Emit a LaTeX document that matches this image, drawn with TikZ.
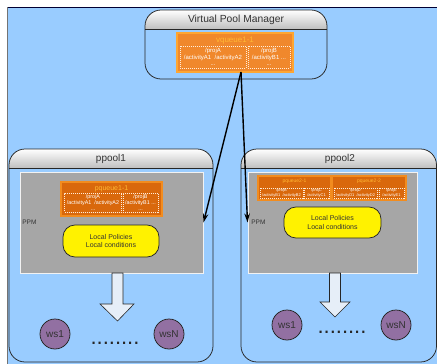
\documentclass[tikz,border=0pt]{standalone}
\usepackage{fontspec}
\setmainfont{Liberation Sans}
\usetikzlibrary{arrows.meta}

\definecolor{poolblue}{HTML}{99CCFF}
\definecolor{vqfill}{HTML}{F0882C}
\definecolor{vqedge}{HTML}{FFA631}
\definecolor{pqfill}{HTML}{D9680C}
\definecolor{pqedge}{HTML}{F28C1E}
\definecolor{qlabel}{HTML}{FFB833}
\definecolor{ppmgray}{HTML}{A6A6A6}
\definecolor{wspurple}{HTML}{9270A2}
\definecolor{bigarrow}{HTML}{E6EEF8}
\definecolor{inktext}{HTML}{333333}

\tikzset{every picture/.style={line width=0.75pt}}
\tikzset{
  pool/.style={draw=black!85, rounded corners=16},
  headband/.style={top color=white, bottom color=black!25},
  queue/.style={fill=vqfill, draw=vqedge, line width=1.3pt, inner sep=0pt},
  pqueue/.style={fill=pqfill, draw=pqedge, line width=1.1pt, inner sep=0pt},
  qname/.style={text=qlabel, inner sep=0pt},
  projbox/.style={draw=white!85!orange, dash pattern=on 1pt off 1pt, line width=0.4pt,
    text=white, align=center, inner sep=0pt},
  ppmbox/.style={fill=ppmgray, draw=white!90!gray, line width=1pt, inner sep=0pt},
  policy/.style={fill=yellow, draw=black!85, rounded corners=12, align=center,
    text=inktext, inner sep=0pt, font=\fontsize{7}{8.5}\selectfont},
  ws/.style={circle, fill=wspurple, draw=black!85, minimum size=30pt, inner sep=0pt,
    text=inktext, font=\fontsize{10}{10}\selectfont},
  blockarrow/.style={fill=bigarrow, draw=black!85, line width=0.6pt},
  link/.style={line width=1.4pt, -{Stealth[length=9pt,width=5.5pt]}},
  dots/.style={text=black!85, inner sep=0pt, anchor=base, font=\fontsize{22}{22}\selectfont}
}

\begin{document}
\begin{tikzpicture}[x=1pt,y=1pt,yscale=-1]
	\useasboundingbox (0,0) rectangle (437,364);

	%Shape: Background
	\fill[poolblue] (7,7) rectangle (437,364);
	\draw[black!80!blue, line width=1pt] (7,7) -- (437,7);
	\draw[black!55, line width=1pt] (7,7) -- (7,364);

	%Shape: Virtual Pool Manager
	\begin{scope}
		\clip[rounded corners=16] (145,10) rectangle (327,79);
		\shade[headband] (145,10) rectangle (327,29);
	\end{scope}
	\draw[pool] (145,10) rectangle (327,79);
	\draw[black!85] (145,29) -- (327,29);
	% Text Node
	\node[text=inktext, font=\fontsize{10.3}{12}\selectfont] (vpmname) at (236,20) {Virtual Pool Manager};

	%Shape: vqueue1-1
	\node[queue, minimum width=116, minimum height=39] (vq) at (235,52.5) {};
	\node[qname, font=\fontsize{8}{8}\selectfont] (vqname) at (235,40.5) {vqueue1-1};
	\node[projbox, minimum width=66, minimum height=22, font=\fontsize{6}{6.6}\selectfont] (vqa) at (213,57) {/projA\\/activityA1\ \ /activityA2\\...};
	\node[projbox, minimum width=42, minimum height=22, font=\fontsize{6}{6.6}\selectfont] (vqb) at (269,57) {/projB\\/activityB1 ...\\...};

	%Shape: ppool1
	\begin{scope}
		\clip[rounded corners=16] (9,149) rectangle (213,362);
		\shade[headband] (9,149) rectangle (213,168);
	\end{scope}
	\draw[pool] (9,149) rectangle (213,362);
	\draw[black!85] (9,168) -- (213,168);
	% Text Node
	\node[text=inktext, font=\fontsize{10}{12}\selectfont] (p1name) at (111,158.5) {ppool1};

	%Shape: ppool2
	\begin{scope}
		\clip[rounded corners=16] (241,149) rectangle (437,362);
		\shade[headband] (241,149) rectangle (437,168);
	\end{scope}
	\draw[pool] (241,149) rectangle (436.5,362);
	\draw[black!85] (241,168) -- (437,168);
	% Text Node
	\node[text=inktext, font=\fontsize{10}{12}\selectfont] (p2name) at (340,158.5) {ppool2};

	%Shape: PPM boxes
	\node[ppmbox, minimum width=183, minimum height=101] (ppm1) at (111.5,222.5) {};
	\node[ppmbox, minimum width=169, minimum height=101] (ppm2) at (332.5,222.5) {};
	% Text Node
	\node[text=inktext, anchor=west, inner sep=0pt, font=\fontsize{6.5}{7}\selectfont] (ppm1name) at (22,222) {PPM};
	\node[text=inktext, anchor=west, inner sep=0pt, font=\fontsize{6.5}{7}\selectfont] (ppm2name) at (251,222) {PPM};

	%Shape: pqueue1-1
	\node[pqueue, minimum width=101, minimum height=34] (pq11) at (111.5,199) {};
	\node[qname, font=\fontsize{7}{7}\selectfont] (pq11name) at (111.5,188.5) {pqueue1-1};
	\node[projbox, minimum width=57, minimum height=19, font=\fontsize{5.4}{6}\selectfont] (pq11a) at (93,202.5) {/projA\\/activityA1\ \ /activityA2\\...};
	\node[projbox, minimum width=35, minimum height=19, font=\fontsize{5.4}{6}\selectfont] (pq11b) at (140.5,202.5) {/projB\\/activityB1 ...\\...};

	%Shape: pqueue2-1 and pqueue2-2
	\node[pqueue, minimum width=73, minimum height=24] (pq21) at (294.5,188) {};
	\node[qname, font=\fontsize{5}{5}\selectfont] (pq21name) at (294.5,181) {pqueue2-1};
	\node[projbox, minimum width=43, minimum height=10, font=\fontsize{4}{4.2}\selectfont] (pq21a) at (281.5,193) {/projB\\/activityB1\ \ /activityB2};
	\node[projbox, minimum width=25, minimum height=10, font=\fontsize{4}{4.2}\selectfont] (pq21b) at (316.5,193) {/projC\\/activityC1};
	\node[pqueue, minimum width=74, minimum height=24] (pq22) at (369,188) {};
	\node[qname, font=\fontsize{5}{5}\selectfont] (pq22name) at (369,181) {pqueue2-2};
	\node[projbox, minimum width=43, minimum height=10, font=\fontsize{4}{4.2}\selectfont] (pq22a) at (355.5,193) {/projD\\/activityD1\ \ /activityD2};
	\node[projbox, minimum width=25, minimum height=10, font=\fontsize{4}{4.2}\selectfont] (pq22b) at (391.5,193) {/projE\\/activityE1};

	%Shape: Local policies
	\node[policy, minimum width=96, minimum height=32] (lp1) at (111,241) {Local Policies\\Local conditions};
	\node[policy, minimum width=97, minimum height=31] (lp2) at (332.5,222.5) {Local Policies\\Local conditions};

	%Shape: Block arrows
	\draw[blockarrow] (112,273) -- (123,273) -- (123,304) -- (134,304) -- (117.5,321) -- (100,304) -- (112,304) -- cycle;
	\draw[blockarrow] (329.5,273) -- (340.5,273) -- (340.5,302) -- (350,302) -- (335,317) -- (320,302) -- (329.5,302) -- cycle;

	%Shape: Workstations
	\node[ws] (p1ws1) at (55,334) {ws1};
	\node[ws] (p1wsN) at (169,334) {wsN};
	\node[ws] (p2ws1) at (287,325) {ws1};
	\node[ws] (p2wsN) at (396,325) {wsN};
	% Text Node
	\node[dots] (p1dots) at (115,344.5) {........};
	\node[dots] (p2dots) at (342,333.5) {........};

	%Straight Lines: dispatch
	\coordinate (vqout) at (241,72);
	\draw[link] (vqout) -- (ppm1.east);
	\draw[link] (vqout) -- (ppm2.west);
\end{tikzpicture}
\end{document}
